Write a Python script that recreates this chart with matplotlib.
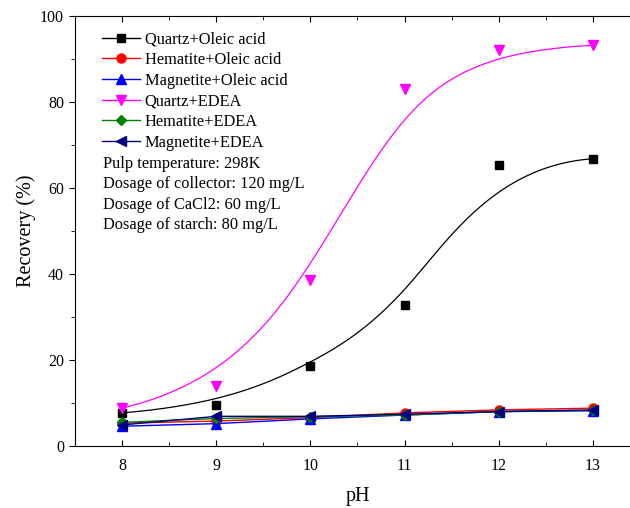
import numpy as np
import matplotlib
matplotlib.use("Agg")
import matplotlib.pyplot as plt
from matplotlib.lines import Line2D
from matplotlib.ticker import MultipleLocator

plt.rcParams['font.family'] = ['Liberation Serif', 'DejaVu Serif']

# data
ph = [8, 9, 10, 11, 12, 13]
quartz_oleic = [7.7, 9.5, 18.5, 32.7, 65.3, 66.8]
hematite_oleic = [5.3, 5.8, 6.6, 7.7, 8.4, 8.8]
magnetite_oleic = [4.6, 5.2, 6.3, 7.2, 8.0, 8.2]
quartz_edea = [8.8, 14.0, 38.5, 83.0, 92.0, 93.2]
hematite_edea = [5.5, 6.4, 6.8, 7.2, 8.0, 8.3]
magnetite_edea = [4.9, 6.9, 6.9, 7.4, 8.0, 8.4]

notes = ["Pulp temperature: 298K",
         "Dosage of collector: 120 mg/L",
         "Dosage of CaCl2: 60 mg/L",
         "Dosage of starch: 80 mg/L"]


def bspline(xc, yc, n=400, k=3):
    # clamped cubic B-spline with the data points as control points
    xc = np.asarray(xc, float)
    yc = np.asarray(yc, float)
    m = len(xc)
    knots = np.concatenate([np.zeros(k), np.arange(m - k + 1), np.full(k, m - k)]).astype(float)
    t = np.linspace(0, m - k, n)
    t[-1] -= 1e-9
    B = np.zeros((n, len(knots) - 1))
    for i in range(len(knots) - 1):
        B[:, i] = (knots[i] <= t) & (t < knots[i + 1])
    for d in range(1, k + 1):
        Bn = np.zeros((n, len(knots) - 1 - d))
        for i in range(len(knots) - 1 - d):
            a = knots[i + d] - knots[i]
            b = knots[i + d + 1] - knots[i + 1]
            if a > 0:
                Bn[:, i] += (t - knots[i]) / a * B[:, i]
            if b > 0:
                Bn[:, i] += (knots[i + d + 1] - t) / b * B[:, i + 1]
        B = Bn
    return B @ xc, B @ yc


fig = plt.figure(figsize=(6.3, 5.08), dpi=100)
ax = fig.add_axes([75 / 630, 62 / 508, 565 / 630, 430 / 508])

bx, by = bspline(ph, quartz_oleic)
ax.plot(bx, by, color='black', lw=0.9)
bx, by = bspline(ph, quartz_edea)
ax.plot(bx, by, color='#ff00ff', lw=0.9)

ax.plot(ph, quartz_oleic, 's', color='black', ms=6, ls='none')
ax.plot(ph, quartz_edea, 'v', color='#ff00ff', ms=7.5, ls='none')
ax.plot(ph, hematite_oleic, 'o-', color='#ff0000', ms=6.5, lw=1)
ax.plot(ph, magnetite_oleic, '^-', color='#0000ff', ms=7, lw=1)
ax.plot(ph, hematite_edea, 'D-', color='#008000', ms=5, lw=1)
ax.plot(ph, magnetite_edea, '<-', color='#000080', ms=7, lw=1)

handles = [
    Line2D([], [], color='black', marker='s', ms=6, lw=1),
    Line2D([], [], color='#ff0000', marker='o', ms=6.5, lw=1),
    Line2D([], [], color='#0000ff', marker='^', ms=7, lw=1),
    Line2D([], [], color='#ff00ff', marker='v', ms=7.5, lw=1),
    Line2D([], [], color='#008000', marker='D', ms=5, lw=1),
    Line2D([], [], color='#000080', marker='<', ms=7, lw=1),
]
labels = ["Quartz+Oleic acid", "Hematite+Oleic acid", "Magnetite+Oleic acid",
          "Quartz+EDEA", "Hematite+EDEA", "Magnetite+EDEA"]
ax.legend(handles, labels, loc='upper left', bbox_to_anchor=(0.048, 0.964),
          frameon=False, fontsize=11.8, handlelength=2.3, handletextpad=0.3,
          labelspacing=0.285, borderpad=0, borderaxespad=0)

for i, line in enumerate(notes):
    ax.text(0.05, 0.656 - i * 20.5 / 430, line, transform=ax.transAxes,
            fontsize=11.8, va='center', ha='left')

ax.set_xlim(7.5, 13.5)
ax.set_ylim(0, 100)
ax.xaxis.set_major_locator(MultipleLocator(1))
ax.xaxis.set_minor_locator(MultipleLocator(0.5))
ax.yaxis.set_major_locator(MultipleLocator(20))
ax.yaxis.set_minor_locator(MultipleLocator(10))
ax.tick_params(axis='x', which='both', direction='in', top=True, labelsize=11.5, pad=9)
ax.tick_params(axis='y', which='both', direction='out', labelsize=11.5)
ax.tick_params(which='major', length=4.5)
ax.tick_params(which='minor', length=3)
ax.set_xlabel("pH", fontsize=14.5, labelpad=9)
ax.set_ylabel("Recovery (%)", fontsize=14.5, labelpad=3)

fig.savefig("out.png", dpi=100)
